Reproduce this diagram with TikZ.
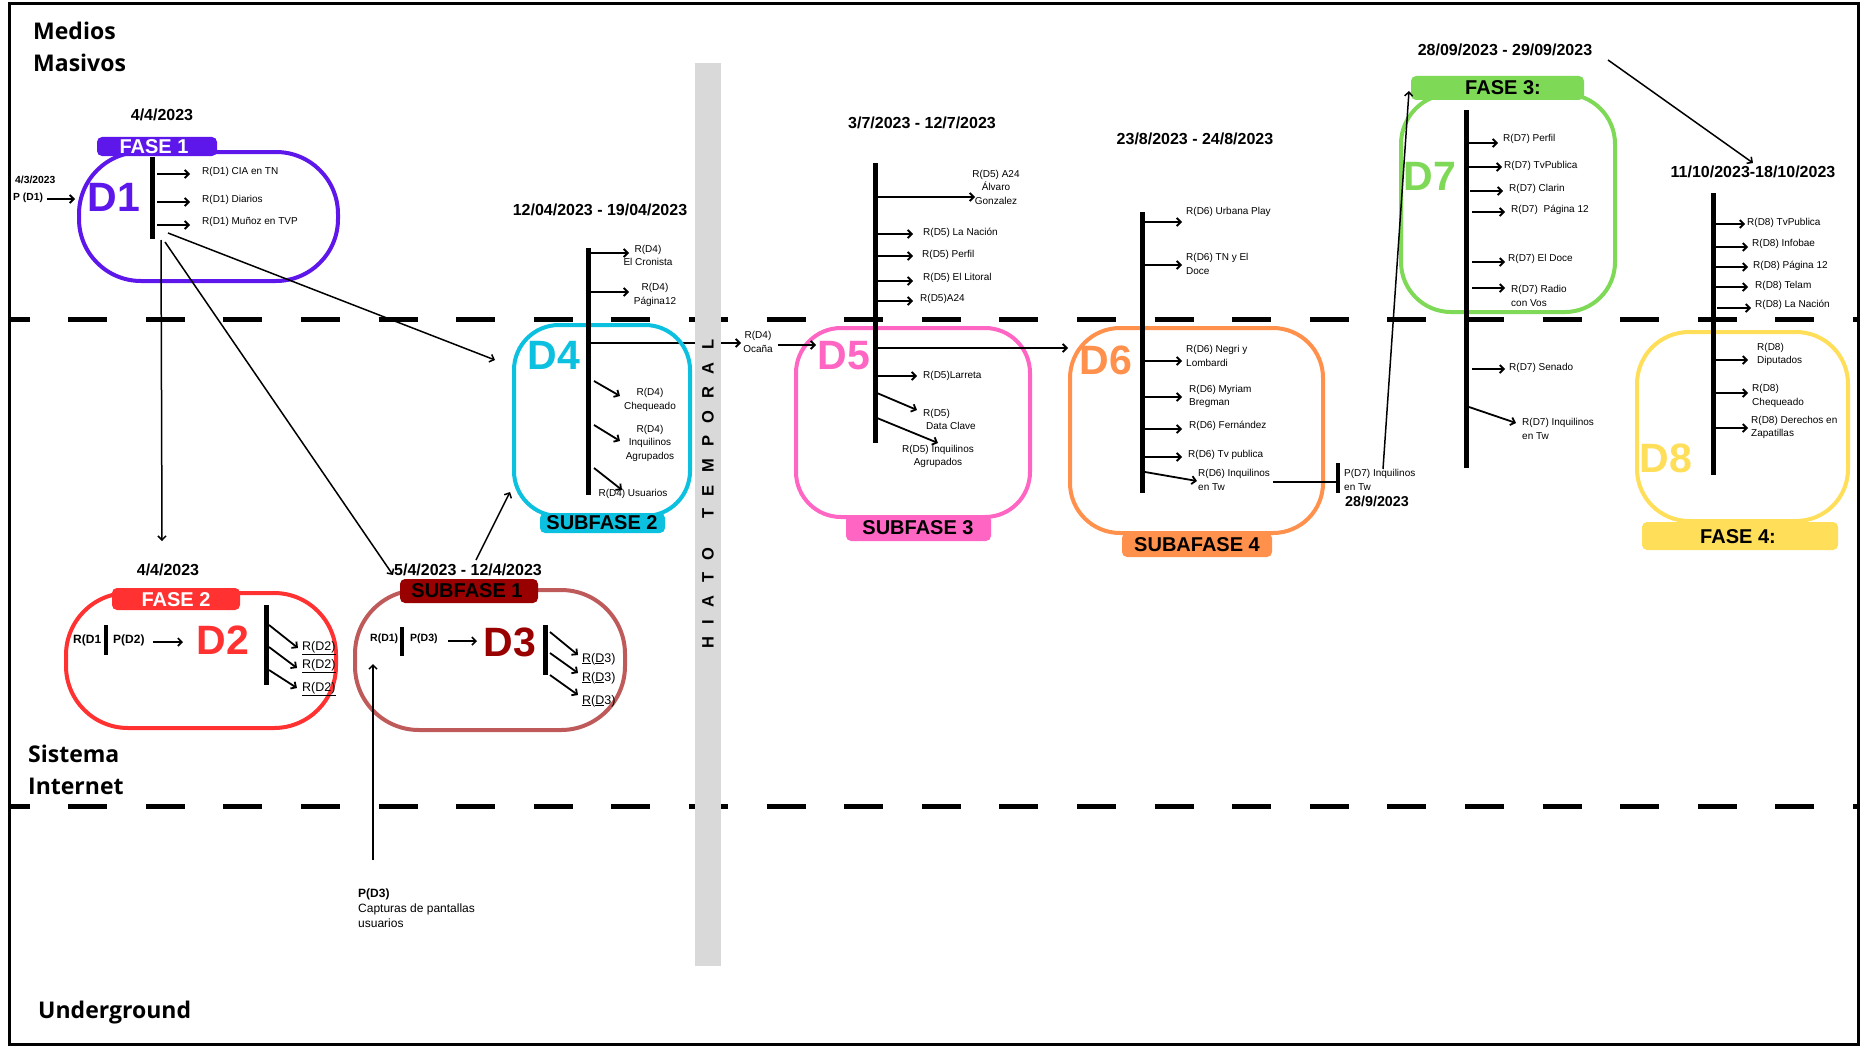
\documentclass[tikz,border=0pt]{standalone}
\usepackage{fontspec}
\setmainfont{Liberation Sans}
\newfontfamily\headfont{Open Sans}
\usetikzlibrary{arrows.meta}
\definecolor{cPurple}{HTML}{5E17EB}
\definecolor{cRed}{HTML}{FF3131}
\definecolor{cRose}{HTML}{BF5A5A}
\definecolor{cDark}{HTML}{990000}
\definecolor{cCyan}{HTML}{0CC0DF}
\definecolor{cPink}{HTML}{FF66C4}
\definecolor{cOrange}{HTML}{FF914D}
\definecolor{cGreen}{HTML}{7ED957}
\definecolor{cYellow}{HTML}{FFDE59}
\definecolor{cBand}{HTML}{D9D9D9}
\begin{document}
\begin{tikzpicture}[x=1pt,y=-1pt,
  smtxt/.style={font=\fontsize{10}{13.5}\selectfont, inner sep=0pt},
  smc/.style={smtxt, align=center},
  sml/.style={smtxt, align=left, anchor=west},
  datetxt/.style={font=\fontsize{16}{19}\selectfont\bfseries, inner sep=0pt},
  bigtxt/.style={font=\fontsize{41}{41}\selectfont\bfseries, inner sep=0pt},
  labtxt/.style={font=\fontsize{20}{20}\selectfont\bfseries, inner sep=0pt},
  labbox/.style={rounded corners=5pt, inner sep=0pt},
  phasebox/.style={line width=4pt, inner sep=0pt},
  headtxt/.style={font=\headfont\fontsize{23}{32}\selectfont\bfseries, inner sep=0pt, align=left, anchor=base west},
  arr/.style={line width=1.8pt, -{Straight Barb[length=4pt,width=8pt]}},
  conn/.style={line width=1.5pt, -{Straight Barb[length=4pt,width=8pt]}},
  vbar/.style={line width=5pt},
  sepline/.style={line width=5pt, dash pattern=on 39pt off 38.6pt, dash phase=20.4pt},
]
\useasboundingbox (0,0) rectangle (1865,1046);
\fill[white] (0,0) rectangle (1865,1046);

% ---------- layer separators ----------
\coordinate (sepAl) at (11,319); \coordinate (sepAr) at (1857,319);
\coordinate (sepBl) at (11,806); \coordinate (sepBr) at (1857,806);
\draw[sepline] (sepAl) -- (sepAr);
\draw[sepline] (sepBl) -- (sepBr);

% ---------- headings (base = last line) ----------
\node[headtxt] (hMM) at (33,72) {Medios\\Masivos};
\node[headtxt] (hSI) at (28,794) {Sistema\\Internet};
\node[headtxt] (hUG) at (38,1018) {Underground};

% ---------- D4 line under the band ----------
\coordinate (d4h) at (588,343);
\coordinate (ocTip) at (741,343);
\draw[arr] (d4h) -- (ocTip);

% ---------- band ----------
\fill[cBand] (695,63) rectangle (721,966);
\node[rotate=90, inner sep=0pt, font=\fontsize{16.5}{16.5}\selectfont\bfseries] (hiato) at (708,494)
  {H\hskip12.3pt I\hskip12.3pt A\hskip12.3pt T\hskip12.3pt O\hskip12.3pt\hskip4.6pt\hskip12.3pt T\hskip12.3pt E\hskip12.3pt M\hskip12.3pt P\hskip12.3pt O\hskip12.3pt R\hskip12.3pt A\hskip12.3pt L};

% ---------- phase boxes ----------
\node[phasebox, draw=cPurple, rounded corners=62pt, minimum width=259pt, minimum height=129pt] (boxD1) at (208.5,216.5) {};
\node[phasebox, draw=cRed, rounded corners=62pt, minimum width=270pt, minimum height=135pt] (boxD2) at (201,660.5) {};
\node[phasebox, draw=cRose, rounded corners=64pt, minimum width=270pt, minimum height=140pt] (boxD3) at (490,660) {};
\node[phasebox, draw=cCyan, rounded corners=45pt, minimum width=176pt, minimum height=191pt] (boxD4) at (602,420.5) {};
\node[phasebox, draw=cPink, rounded corners=45pt, minimum width=234pt, minimum height=189pt] (boxD5) at (913,422.5) {};
\node[phasebox, draw=cOrange, rounded corners=50pt, minimum width=253pt, minimum height=205pt] (boxD6) at (1196.5,430.5) {};
\node[phasebox, draw=cGreen, rounded corners=50pt, minimum width=214pt, minimum height=218pt] (boxD7) at (1508,203) {};
\node[phasebox, draw=cYellow, rounded corners=52pt, minimum width=211pt, minimum height=189pt] (boxD8) at (1742.5,426.5) {};

% ---------- labels ----------
\node[labbox, fill=cPurple, minimum width=120pt, minimum height=19pt] (labD1) at (157,146.5) {};
\node[labtxt, text=white] at (154,147) {FASE 1};
\node[labbox, fill=cRed, minimum width=128pt, minimum height=22pt] (labD2) at (176,599) {};
\node[labtxt, text=white] at (176,600) {FASE 2};
\node[labbox, fill=cDark, minimum width=138pt, minimum height=24pt] (labD3) at (469,591) {};
\node[labtxt] at (467,591) {SUBFASE 1};
\node[labbox, fill=cCyan, minimum width=125pt, minimum height=20pt] (labD4) at (602.5,523) {};
\node[labtxt] at (602,523) {SUBFASE 2};
\node[labbox, fill=cPink, minimum width=145pt, minimum height=26pt] (labD5) at (918.5,528) {};
\node[labtxt] at (918,528) {SUBFASE 3};
\node[labbox, fill=cOrange, minimum width=150pt, minimum height=24pt] (labD6) at (1197,545) {};
\node[labtxt] at (1197,545) {SUBAFASE 4};
\node[labbox, fill=cGreen, minimum width=173pt, minimum height=24pt] (labD7) at (1497.5,88) {};
\node[labtxt] at (1503,88) {FASE 3:};
\node[labbox, fill=cYellow, minimum width=196pt, minimum height=28pt] (labD8) at (1740,536) {};
\node[labtxt] at (1738,537) {FASE 4:};

% ---------- big names ----------
\node[bigtxt, text=cPurple] (nD1) at (114,197) {D1};
\node[bigtxt, text=cRed] (nD2) at (223,640) {D2};
\node[bigtxt, text=cDark] (nD3) at (510,642) {D3};
\node[bigtxt, text=cCyan] (nD4) at (554,355) {D4};
\node[bigtxt, text=cPink] (nD5) at (844,356) {D5};
\node[bigtxt, text=cOrange] (nD6) at (1106,360) {D6};
\node[bigtxt, text=cGreen] (nD7) at (1430,176) {D7};
\node[bigtxt, text=cYellow] (nD8) at (1666,458) {D8};

% ---------- dates ----------
\node[datetxt] (dD1) at (162,115) {4/4/2023};
\node[datetxt] (dD2) at (168,570) {4/4/2023};
\node[datetxt] (dD3) at (468,570) {5/4/2023 - 12/4/2023};
\node[datetxt] (dD4) at (600,210) {12/04/2023 - 19/04/2023};
\node[datetxt] (dD5) at (922,123) {3/7/2023 - 12/7/2023};
\node[datetxt] (dD6) at (1195,139) {23/8/2023 - 24/8/2023};
\node[datetxt] (dD7) at (1505,50) {28/09/2023 - 29/09/2023};
\node[datetxt] (dD8) at (1753,172) {11/10/2023-18/10/2023};

% ---------- bars ----------
\draw[vbar] (152,157) coordinate (b1t) -- (152,239) coordinate (b1b);
\draw[line width=4pt] (106,625) coordinate (b2st) -- (106,655);
\draw[vbar] (266,605) coordinate (b2t) -- (266,685);
\draw[line width=4pt] (402,627) coordinate (b3st) -- (402,656);
\draw[vbar] (545,625) coordinate (b3t) -- (545,675);
\draw[vbar] (588,248) coordinate (b4t) -- (588,495);
\draw[vbar] (875,163) coordinate (b5t) -- (875,443);
\draw[vbar] (1142,212) coordinate (b6t) -- (1142,493);
\draw[line width=4pt] (1338,463) coordinate (b7pt) -- (1338,493) coordinate (b7pb);
\draw[vbar] (1466,110) coordinate (b7t) -- (1466,468);
\draw[vbar] (1713,193) coordinate (b8t) -- (1713,475);

% ---------- D1 ----------
\node[inner sep=0pt, anchor=west, font=\fontsize{10.3}{12}\selectfont\bfseries] (pd1date) at (15,180) {4/3/2023};
\node[inner sep=0pt, anchor=west, font=\fontsize{10.3}{12}\selectfont\bfseries] (pd1) at (13,198) {P (D1)};
\draw[arr] (47,199) -- (75,199);
\node[sml] (r11) at (202,172) {R(D1) CIA en TN};
\node[sml] (r12) at (202,200) {R(D1) Diarios};
\node[sml] (r13) at (202,222) {R(D1) Muñoz en TVP};
\draw[arr] (157,174) -- (190,174);
\draw[arr] (157,202) -- (190,202);
\draw[arr] (157,225) -- (190,225);

% connectors from D1
\coordinate (c1a) at (161,240); \coordinate (c1aT) at (162,541);
\coordinate (c1b) at (165,242); \coordinate (c1bT) at (393,575);
\coordinate (c1c) at (168,233); \coordinate (c1cT) at (495,360);
\draw[conn] (c1a) -- (c1aT);
\draw[conn] (c1b) -- (c1bT);
\draw[conn] (c1c) -- (c1cT);
\coordinate (c3u) at (476,560); \coordinate (c3uT) at (510,492);
\draw[conn] (c3u) -- (c3uT);

% ---------- D2 ----------
\node[inner sep=0pt, anchor=west, font=\fontsize{12}{14}\selectfont\bfseries] (r1d2) at (73,640) {R(D1};
\node[inner sep=0pt, anchor=west, font=\fontsize{12}{14}\selectfont\bfseries] (p2) at (113,640) {P(D2)};
\draw[line width=1.6pt, -{Straight Barb[length=4pt,width=8pt]}] (153,642) -- (183,642);
\draw[arr] (269,625) -- (298,648);
\draw[arr] (269,647) -- (297,668);
\draw[arr] (269,670) -- (297,688);
\node[inner sep=0pt, anchor=west, font=\fontsize{12.5}{14}\selectfont] (r21) at (302,648) {\underline{R(D2)}};
\node[inner sep=0pt, anchor=west, font=\fontsize{12.5}{14}\selectfont] (r22) at (302,666) {\underline{R(D2)}};
\node[inner sep=0pt, anchor=west, font=\fontsize{12.5}{14}\selectfont] (r23) at (302,689) {\underline{R(D2)}};

% ---------- D3 ----------
\node[inner sep=0pt, anchor=west, font=\fontsize{10.5}{12}\selectfont\bfseries] (r1d3) at (370,639) {R(D1)};
\node[inner sep=0pt, anchor=west, font=\fontsize{10.5}{12}\selectfont\bfseries] (p3) at (410,639) {P(D3)};
\draw[line width=1.6pt, -{Straight Barb[length=4pt,width=8pt]}] (448,641) -- (477,641);
\draw[arr] (550,632) -- (578,655);
\draw[arr] (550,653) -- (578,673);
\draw[arr] (550,675) -- (578,695);
\node[inner sep=0pt, anchor=west, font=\fontsize{12.5}{14}\selectfont] (r31) at (582,659) {\underline{R}(\underline{D}3)};
\node[inner sep=0pt, anchor=west, font=\fontsize{12.5}{14}\selectfont] (r32) at (582,678) {\underline{R}(\underline{D}3)};
\node[inner sep=0pt, anchor=west, font=\fontsize{12.5}{14}\selectfont] (r33) at (582,701) {\underline{R}(\underline{D}3)};
\node[inner sep=0pt, anchor=base west, align=left, font=\fontsize{12}{15}\selectfont] (pd3) at (358,927)
  {\textbf{P(D3)}\\Capturas de pantallas\\usuarios};
\coordinate (c3p) at (373,860); \coordinate (c3pT) at (373,664);
\draw[conn] (c3p) -- (c3pT);

% ---------- D4 ----------
\draw[arr] (590,253) -- (629,253);
\node[smc] (r41) at (648,255.5) {R(D4)\\El Cronista};
\draw[arr] (590,292) -- (629,292);
\node[smc] (r42) at (655,295) {R(D4)\\Página12};
\draw[arr] (594,381) -- (620,396);
\node[smc] (r43) at (650,400) {R(D4)\\Chequeado};
\draw[arr] (594,425) -- (620,441);
\node[smc] (r44) at (650,443) {R(D4)\\Inquilinos\\Agrupados};
\draw[arr] (594,468) -- (622,490);
\node[smc] (r45) at (633,494) {R(D4) Usuarios};
\node[smc] (oc) at (758,342) {R(D4)\\Ocaña};
\coordinate (oc2) at (778,345); \coordinate (oc2T) at (816,345);
\draw[arr] (oc2) -- (oc2T);

% ---------- D5 ----------
\draw[arr] (877,197) -- (975,197);
\node[smc] (r51) at (996,187) {R(D5) A24\\Álvaro\\Gonzalez};
\draw[arr] (877,234) -- (913,234);
\node[sml] (r52) at (923,233) {R(D5) La Nación};
\draw[arr] (877,256) -- (913,256);
\node[sml] (r53) at (922,255) {R(D5) Perfil};
\draw[arr] (877,281) -- (913,281);
\node[sml] (r54) at (923,278) {R(D5) El Litoral};
\draw[arr] (877,301) -- (913,301);
\node[sml] (r55) at (920,299) {R(D5)A24};
\coordinate (d5h) at (875,348); \coordinate (d5hT) at (1068,348);
\draw[arr] (d5h) -- (d5hT);
\draw[arr] (877,376) -- (917,376);
\node[sml] (r56) at (923,376) {R(D5)Larreta};
\draw[arr] (877,393) -- (917,410);
\node[sml] (r57) at (923,419.5) {R(D5)\\\hspace*{3pt}Data Clave};
\draw[arr] (877,418) -- (938,443);
\node[smc] (r58) at (938,456.5) {R(D5) Inquilinos\\Agrupados};

% ---------- D6 ----------
\draw[arr] (1145,222) -- (1182,222);
\node[sml] (r61) at (1186,212) {R(D6) Urbana Play};
\draw[arr] (1145,265) -- (1182,265);
\node[sml] (r62) at (1186,264) {R(D6) TN y El\\Doce};
\draw[arr] (1145,361) -- (1182,361);
\node[sml] (r63) at (1186,356) {R(D6) Negri y\\Lombardi};
\draw[arr] (1145,397) -- (1182,397);
\node[sml] (r64) at (1189,396.5) {R(D6) Myriam\\Bregman};
\draw[arr] (1145,429) -- (1182,429);
\node[sml] (r65) at (1189,426) {R(D6) Fernández};
\draw[arr] (1145,457) -- (1182,457);
\node[sml] (r66) at (1188,455) {R(D6) Tv publica};
\draw[arr] (1145,472) -- (1197,481);
\node[sml] (r67) at (1198,480) {R(D6) Inquilinos\\en Tw};
\coordinate (r67e) at (1273,482);
\draw[line width=1.8pt] (r67e) -- (b7pt |- r67e);
\node[sml] (pd7) at (1344,480) {P(D7) Inquilinos\\en Tw};
\node[inner sep=0pt, font=\fontsize{14.3}{16}\selectfont\bfseries] (pd7date) at (1377,501) {28/9/2023};
\coordinate (c7) at (1383,469); \coordinate (c7T) at (1409,91);
\draw[conn] (c7) -- (c7T);

% ---------- D7 ----------
\draw[arr] (1469,143) -- (1498,143);
\node[sml] (r71) at (1503,139) {R(D7) Perfil};
\draw[arr] (1469,167) -- (1502,167);
\node[sml] (r72) at (1504,166) {R(D7) TvPublica};
\draw[arr] (1470,191) -- (1503,191);
\node[sml] (r73) at (1509,189) {R(D7) Clarin};
\draw[arr] (1472,212) -- (1505,212);
\node[sml] (r74) at (1511,210) {R(D7)\hspace{3pt} Página 12};
\draw[arr] (1472,262) -- (1505,262);
\node[sml] (r75) at (1508,259) {R(D7) El Doce};
\draw[arr] (1472,288) -- (1505,288);
\node[sml] (r76) at (1511,296) {R(D7) Radio\\con Vos};
\draw[arr] (1472,369) -- (1505,369);
\node[sml] (r77) at (1509,368) {R(D7) Senado};
\draw[arr] (1469,407) -- (1516,423);
\node[sml] (r78) at (1522,429) {R(D7) Inquilinos\\en Tw};
\coordinate (c8) at (1608,60); \coordinate (c8T) at (1753,163);
\draw[conn] (c8) -- (c8T);

% ---------- D8 ----------
\draw[arr] (1716,224) -- (1745,224);
\node[sml] (r81) at (1747,223) {R(D8) TvPublica};
\draw[arr] (1716,247) -- (1748,247);
\node[sml] (r82) at (1752,244) {R(D8) Infobae};
\draw[arr] (1716,267) -- (1748,267);
\node[sml] (r83) at (1753,266) {R(D8) Página 12};
\draw[arr] (1716,287) -- (1748,287);
\node[sml] (r84) at (1755,286) {R(D8) Telam};
\draw[arr] (1717,308) -- (1751,308);
\node[sml] (r85) at (1755,305) {R(D8) La Nación};
\draw[arr] (1716,360) -- (1748,360);
\node[sml] (r86) at (1757,354.5) {R(D8)\\Diputados};
\draw[arr] (1716,393) -- (1748,393);
\node[sml] (r87) at (1752,396) {R(D8)\\Chequeado};
\draw[arr] (1716,428) -- (1748,428);
\node[sml] (r88) at (1751,427.5) {R(D8) Derechos en\\Zapatillas};

% ---------- frame ----------
\draw[line width=3pt] (9,4) rectangle (1858,1044);
\end{tikzpicture}
\end{document}
